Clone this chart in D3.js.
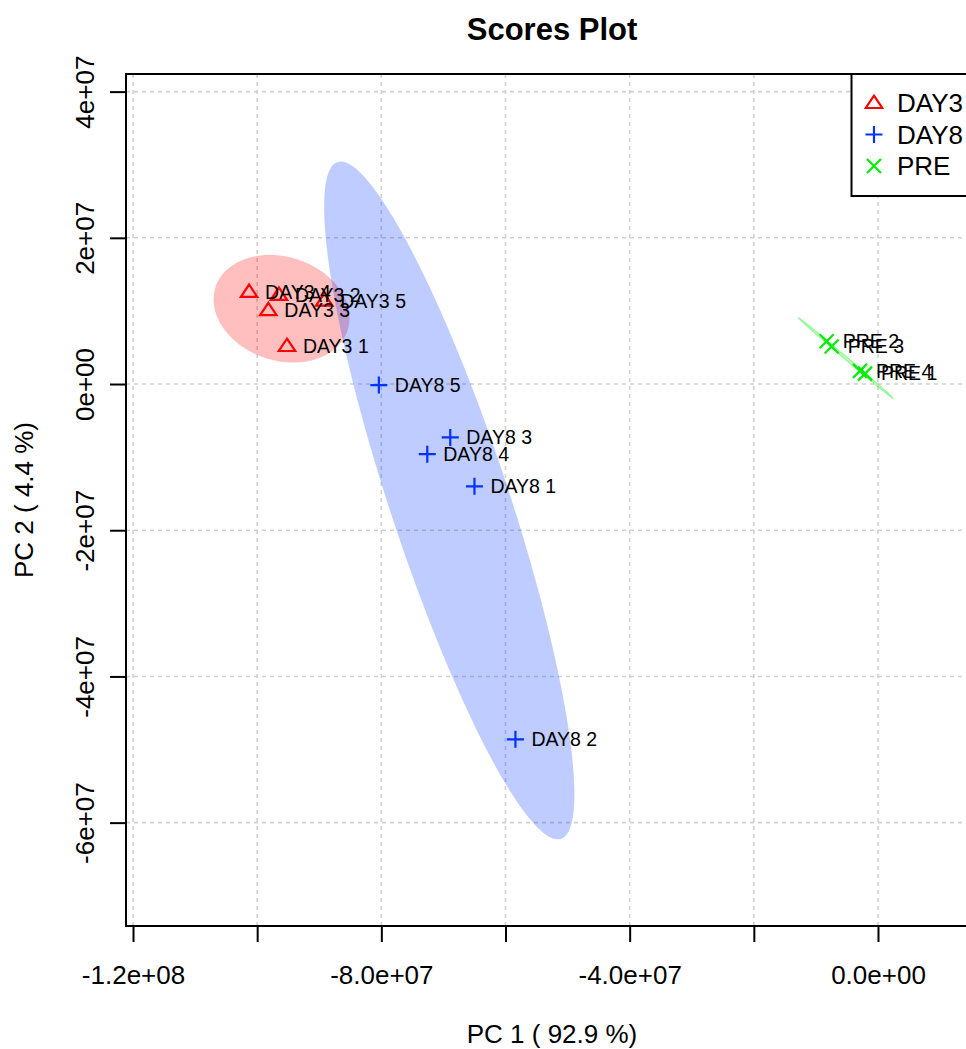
<!DOCTYPE html>
<html>
<head>
<meta charset="utf-8">
<script src="https://cdn.jsdelivr.net/npm/d3@7"></script>
<style>
  html, body { margin: 0; padding: 0; background: #fff; }
  svg { display: block; font-family: "Liberation Sans", Arial, Helvetica, sans-serif; }
</style>
</head>
<body>
<svg id="chart" width="966" height="1049"></svg>
<script>
// ---- PCA scores (PC1, PC2) per group ----
const groupNames = ["DAY3", "DAY8", "PRE"];

const day3Labels = ["DAY3 1", "DAY3 2", "DAY3 3", "DAY3 4", "DAY3 5"];
const day3PC1 = [-95.2e6, -96.5e6, -98.2e6, -101.3e6, -89.2e6];
const day3PC2 = [5.2e6, 12.2e6, 10.1e6, 12.6e6, 11.4e6];

const day8Labels = ["DAY8 1", "DAY8 2", "DAY8 3", "DAY8 4", "DAY8 5"];
const day8PC1 = [-65.0e6, -58.4e6, -68.9e6, -72.6e6, -80.4e6];
const day8PC2 = [-14.0e6, -48.6e6, -7.3e6, -9.6e6, -0.14e6];

const preLabels = ["PRE 1", "PRE 2", "PRE 3", "PRE 4"];
const prePC1 = [-2.09e6, -8.26e6, -7.46e6, -2.90e6];
const prePC2 = [1.42e6, 5.85e6, 5.12e6, 1.80e6];

// ---- axis ticks and labels ----
const xTickValues = [-1.2e8, -1.0e8, -8e7, -6e7, -4e7, -2e7, 0];
const xTickLabels = ["-1.2e+08", "", "-8.0e+07", "", "-4.0e+07", "", "0.0e+00"];
const yTickValues = [4e7, 2e7, 0, -2e7, -4e7, -6e7];
const yTickLabels = ["4e+07", "2e+07", "0e+00", "-2e+07", "-4e+07", "-6e+07"];
const xDomain = [-121.13e6, 16.11e6];
const yDomain = [-74.14e6, 42.41e6];

const titleText = "Scores Plot";
const xTitle = "PC 1 ( 92.9 %)";
const yTitle = "PC 2 ( 4.4 %)";

// ---- styling ----
const colors = { DAY3: "#FF0000", DAY8: "#0033FF", PRE: "#00EE00" };
const shapes = { DAY3: "triangle", DAY8: "plus", PRE: "cross" };
const ellipseOpacity = 0.25;
const chi95 = Math.sqrt(5.991464547); // sqrt(qchisq(0.95, 2))

const plot = { left: 126, top: 74, right: 978, bottom: 926 };
const baseFont = 26;

const svg = d3.select("#chart");

const x = d3.scaleLinear().domain(xDomain).range([plot.left, plot.right]);
const y = d3.scaleLinear().domain(yDomain).range([plot.bottom, plot.top]);

const groups = [
  { name: "DAY3", labels: day3Labels, xs: day3PC1, ys: day3PC2 },
  { name: "DAY8", labels: day8Labels, xs: day8PC1, ys: day8PC2 },
  { name: "PRE",  labels: preLabels,  xs: prePC1,  ys: prePC2 }
];

// clip region for the plotting area
svg.append("defs").append("clipPath").attr("id", "plotClip")
  .append("rect")
  .attr("x", plot.left).attr("y", plot.top)
  .attr("width", plot.right - plot.left).attr("height", plot.bottom - plot.top);

// ---- grid ----
const grid = svg.append("g").attr("stroke", "#d0d0d0").attr("stroke-width", 1.6)
  .attr("stroke-dasharray", "4,4").attr("clip-path", "url(#plotClip)");
grid.selectAll("line.v").data(xTickValues).join("line").attr("class", "v")
  .attr("x1", d => x(d)).attr("x2", d => x(d))
  .attr("y1", plot.top).attr("y2", plot.bottom);
grid.selectAll("line.h").data(yTickValues).join("line").attr("class", "h")
  .attr("y1", d => y(d)).attr("y2", d => y(d))
  .attr("x1", plot.left).attr("x2", plot.right);

// ---- 95% confidence ellipses from the sample covariance ----
function confidenceEllipse(xs, ys) {
  const n = xs.length;
  const mx = d3.mean(xs), my = d3.mean(ys);
  let sxx = 0, syy = 0, sxy = 0;
  for (let i = 0; i < n; i++) {
    const dx = xs[i] - mx, dy = ys[i] - my;
    sxx += dx * dx; syy += dy * dy; sxy += dx * dy;
  }
  sxx /= (n - 1); syy /= (n - 1); sxy /= (n - 1);
  const a = Math.sqrt(sxx);
  const b = sxy / a;
  const c = Math.sqrt(Math.max(syy - b * b, 0));
  const pts = [];
  for (let k = 0; k < 200; k++) {
    const th = 2 * Math.PI * k / 200;
    const u = Math.cos(th), v = Math.sin(th);
    pts.push([mx + chi95 * a * u, my + chi95 * (b * u + c * v)]);
  }
  return pts;
}

const ellipseLayer = svg.append("g").attr("clip-path", "url(#plotClip)");
const line = d3.line().x(d => x(d[0])).y(d => y(d[1])).curve(d3.curveLinearClosed);
groups.forEach(g => {
  ellipseLayer.append("path")
    .attr("d", line(confidenceEllipse(g.xs, g.ys)))
    .attr("fill", colors[g.name])
    .attr("fill-opacity", ellipseOpacity)
    .attr("stroke", colors[g.name])
    .attr("stroke-opacity", g.name === "PRE" ? 0.3 : 0)
    .attr("stroke-width", 1.2);
});

// ---- point symbols ----
function symbolPath(shape, cx, cy) {
  if (shape === "triangle") {
    const r = 9.5;
    const h = r * Math.sqrt(3) / 2;
    return `M${cx},${cy - 0.62 * r * 1.25}L${cx + h},${cy + 0.5 * r * 1.05}L${cx - h},${cy + 0.5 * r * 1.05}Z`;
  }
  if (shape === "plus") {
    const r = 8.5;
    return `M${cx - r},${cy}L${cx + r},${cy}M${cx},${cy - r}L${cx},${cy + r}`;
  }
  const r = 7;
  return `M${cx - r},${cy - r}L${cx + r},${cy + r}M${cx - r},${cy + r}L${cx + r},${cy - r}`;
}

const pointLayer = svg.append("g").attr("clip-path", "url(#plotClip)");
groups.forEach(g => {
  g.xs.forEach((vx, i) => {
    pointLayer.append("path")
      .attr("d", symbolPath(shapes[g.name], x(vx), y(g.ys[i])))
      .attr("fill", "none")
      .attr("stroke", colors[g.name])
      .attr("stroke-width", 2.2);
  });
});

// ---- sample labels ----
const labelLayer = svg.append("g").attr("clip-path", "url(#plotClip)")
  .attr("font-size", 19.5).attr("fill", "#000");
groups.forEach(g => {
  g.xs.forEach((vx, i) => {
    labelLayer.append("text")
      .attr("x", x(vx) + 16)
      .attr("y", y(g.ys[i]))
      .attr("dy", "0.35em")
      .text(g.labels[i]);
  });
});

// ---- box ----
svg.append("rect")
  .attr("x", plot.left).attr("y", plot.top)
  .attr("width", plot.right - plot.left).attr("height", plot.bottom - plot.top)
  .attr("fill", "none").attr("stroke", "#000").attr("stroke-width", 2);

// ---- axes ----
const xAxis = d3.axisBottom(x).tickValues(xTickValues).tickSize(16).tickPadding(24)
  .tickFormat((d, i) => xTickLabels[i]);
const gx = svg.append("g").attr("transform", `translate(0,${plot.bottom})`).call(xAxis);
gx.select(".domain").remove();
gx.selectAll(".tick line").attr("stroke", "#000").attr("stroke-width", 2);
gx.selectAll(".tick text").attr("font-size", baseFont).attr("fill", "#000")
  .attr("font-family", "Liberation Sans, Arial, sans-serif");

const yAxis = d3.axisLeft(y).tickValues(yTickValues).tickSize(16)
  .tickFormat((d, i) => yTickLabels[i]);
const gy = svg.append("g").attr("transform", `translate(${plot.left},0)`).call(yAxis);
gy.select(".domain").remove();
gy.selectAll(".tick line").attr("stroke", "#000").attr("stroke-width", 2);
gy.selectAll(".tick text")
  .attr("x", null).attr("dy", null)
  .attr("transform", "translate(-32,0) rotate(-90)")
  .attr("text-anchor", "middle")
  .attr("font-size", baseFont).attr("fill", "#000")
  .attr("font-family", "Liberation Sans, Arial, sans-serif");

// ---- titles ----
const midX = (plot.left + plot.right) / 2;
svg.append("text").attr("x", midX).attr("y", 40)
  .attr("text-anchor", "middle").attr("font-size", 31).attr("font-weight", "bold")
  .text(titleText);
svg.append("text").attr("x", midX).attr("y", 1043)
  .attr("text-anchor", "middle").attr("font-size", baseFont)
  .text(xTitle);
svg.append("text")
  .attr("transform", `translate(33,${(plot.top + plot.bottom) / 2}) rotate(-90)`)
  .attr("text-anchor", "middle").attr("font-size", baseFont)
  .text(yTitle);

// ---- legend ----
const legend = svg.append("g");
legend.append("rect")
  .attr("x", 851.5).attr("y", plot.top)
  .attr("width", plot.right - 851.5).attr("height", 196 - plot.top)
  .attr("fill", "#fff").attr("stroke", "#000").attr("stroke-width", 2);
groupNames.forEach((name, i) => {
  const cy = 103 + i * 31.5;
  legend.append("path")
    .attr("d", symbolPath(shapes[name], 874, cy))
    .attr("fill", "none").attr("stroke", colors[name]).attr("stroke-width", 2.2);
  legend.append("text").attr("x", 897).attr("y", cy).attr("dy", "0.35em")
    .attr("font-size", baseFont).text(name);
});
</script>
</body>
</html>
